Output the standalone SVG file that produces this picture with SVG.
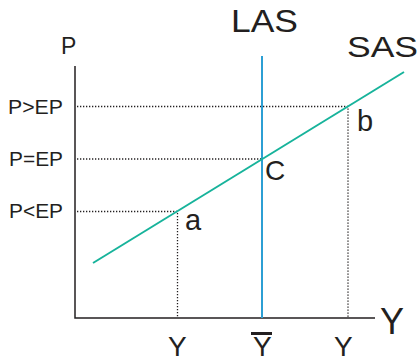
<svg xmlns="http://www.w3.org/2000/svg" width="420" height="361" viewBox="0 0 420 361">
<style>
text{font-family:"Liberation Sans",Arial,sans-serif;fill:#231f20}
.axis{stroke:#231f20;stroke-width:1.5;fill:none}
.dot{stroke:#231f20;stroke-width:1.3;stroke-dasharray:1.3 1.7;fill:none}
.lbl{font-size:20px}
.yl{font-size:28px}
</style>
<rect width="420" height="361" fill="#fff"/>
<g id="connectors">
<path class="dot" d="M77 106.5H348V318"/>
<path class="dot" d="M77 159H262"/>
<path class="dot" d="M77 211.5H177.5V318"/>
<path class="axis" d="M75 66V318H375"/>
<line id="LAS-line" x1="262" y1="56" x2="262" y2="318" stroke="#2c9fd4" stroke-width="2"/>
<line id="SAS-line" x1="93" y1="263" x2="404" y2="72" stroke="#17b39b" stroke-width="2"/>
</g>
<g id="axis-labels">
<text x="61" y="54" font-size="23">P</text>
<text x="380" y="334" font-size="36">Y</text>
</g>
<g id="price-labels">
<text class="lbl" x="8" y="114" textLength="55" lengthAdjust="spacingAndGlyphs">P&gt;EP</text>
<text class="lbl" x="9" y="166" textLength="54" lengthAdjust="spacingAndGlyphs">P=EP</text>
<text class="lbl" x="9" y="218" textLength="54" lengthAdjust="spacingAndGlyphs">P&lt;EP</text>
</g>
<g id="LAS"><text x="231" y="32" font-size="32" textLength="67" lengthAdjust="spacingAndGlyphs">LAS</text></g>
<g id="SAS"><text x="347" y="57" font-size="30" textLength="71" lengthAdjust="spacingAndGlyphs">SAS</text></g>
<g id="point-a"><text x="185" y="230" font-size="29">a</text></g>
<g id="point-b"><text x="357" y="131" font-size="29">b</text></g>
<g id="point-C"><text x="265" y="180" font-size="28">C</text></g>
<g id="y-labels">
<text class="yl" x="168" y="356">Y</text>
<text class="yl" x="253" y="356">Y</text>
<rect x="251" y="332" width="21" height="3" fill="#231f20"/>
<text class="yl" x="334" y="356">Y</text>
</g>
</svg>
